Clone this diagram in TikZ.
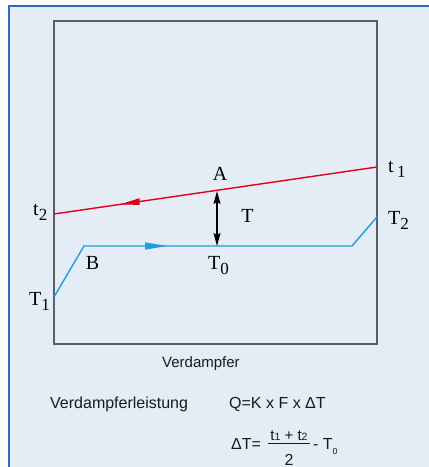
\documentclass[tikz,border=0pt]{standalone}
\usepackage{fontspec}
\setmainfont{Liberation Serif}
\newfontfamily\sansf{Liberation Sans}
\usetikzlibrary{arrows.meta,calc}
\definecolor{bgcol}{HTML}{E4ECF5}
\definecolor{framecol}{HTML}{2E6DB8}
\definecolor{boxcol}{HTML}{5E5E62}
\definecolor{redl}{HTML}{E3001B}
\definecolor{bluel}{HTML}{1E9FE0}
\definecolor{txtcol}{HTML}{1A1A1A}
\newcommand{\sbs}[1]{\raisebox{-0.27em}{\scalebox{0.85}{#1}}}
\tikzset{
  lbl/.style={font=\fontsize{20}{20}\selectfont, inner sep=0pt, anchor=base},
  lblw/.style={lbl, anchor=base west},
  stxt/.style={font=\sansf\fontsize{16}{16}\selectfont, text=txtcol, inner sep=0pt, anchor=base west},
  redline/.style={redl, line width=1.4pt},
  blueline/.style={bluel, line width=1.4pt},
}
\begin{document}
\begin{tikzpicture}[x=1pt,y=-1pt]
\useasboundingbox (0,0) rectangle (429,467);
\fill[bgcol] (9,6) rectangle (429,467);
\draw[framecol, line width=1.8pt] (9,467) -- (9,6) -- (429,6);
% box
\draw[boxcol, line width=1.1pt] (54,21) rectangle (377,344);
% red line
\coordinate (r1) at (377,167);
\coordinate (r2) at (54,214);
\draw[redline] (r1) -- (r2);
\fill[redl] ($(r2)!0.205!(r1)$) -- ($(r2)!0.265!(r1)+(0,-3.4)$) -- ($(r2)!0.265!(r1)+(0,3.4)$) -- cycle;
% blue line
\coordinate (b0) at (54,297);
\coordinate (b1) at (84,246);
\coordinate (b2) at (352,246);
\coordinate (b3) at (377,217);
\draw[blueline] (b0) -- (b1) -- (b2) -- (b3);
\fill[bluel] (167,246) -- (145,242.3) -- (145,249.7) -- cycle;
% double arrow
\coordinate (dA) at (217,191);
\coordinate (dB) at (217,246);
\draw[black, line width=1.1pt, {Stealth[length=13pt,width=7pt,inset=2pt]}-{Stealth[length=13pt,width=7pt,inset=2pt]}] (dA) -- (dB);
% labels
\node[lblw] (lt1) at (388,172) {t\,\sbs{1}};
\node[lblw] (lt2) at (33,215) {t\sbs{2}};
\node[lblw] (lT1) at (29,305) {T\sbs{1}};
\node[lblw] (lT2) at (388,224) {T\sbs{2}};
\node[lbl] (lA) at (220,180) {A};
\node[lbl] (lT) at (247.5,222) {T};
\node[lbl] (lB) at (92.5,269) {B};
\node[lblw] (lT0) at (208,269) {T\sbs{0}};
% texts
\node[stxt, font=\sansf\fontsize{15}{15}\selectfont] (verd) at (162,367) {Verdampfer};
\node[stxt] (leist) at (50,408) {Verdampferleistung};
\node[stxt] (q) at (229,408) {Q=K x F x ΔT};
\node[stxt] (dt) at (231,449) {ΔT=};
\node[stxt, font=\sansf\fontsize{15}{15}\selectfont, anchor=base] (num) at (289,440) {t\raisebox{-0.1ex}{\scalebox{0.7}{1}} + t\raisebox{-0.1ex}{\scalebox{0.7}{2}}};
\draw[txtcol, line width=0.7pt] (268,443.5) -- (310,443.5);
\node[stxt, anchor=base] (den) at (289,465) {2};
\node[stxt] (mt) at (313,449) {- T\raisebox{-0.6ex}{\scalebox{0.55}{0}}};
\end{tikzpicture}
\end{document}
